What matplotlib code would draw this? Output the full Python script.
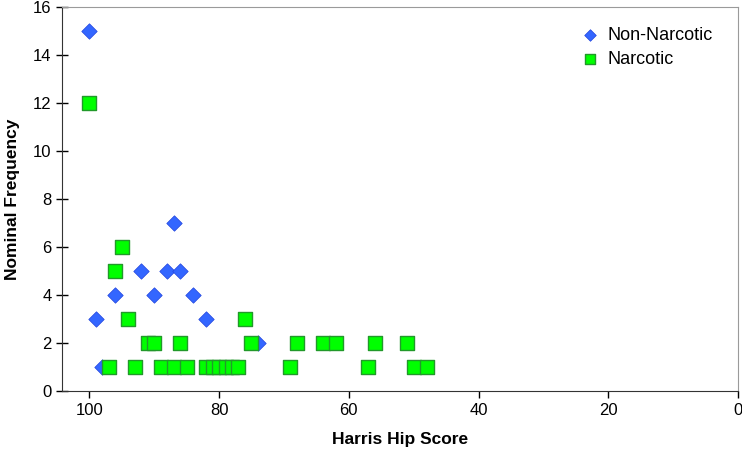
import matplotlib.pyplot as plt

plt.rcParams['font.family'] = ['Liberation Sans', 'DejaVu Sans']

# Non-Narcotic (blue diamonds)
non_score = [100, 87, 92, 88, 86, 96, 90, 84, 99, 82, 74, 98]
non_freq = [15, 7, 5, 5, 5, 4, 4, 4, 3, 3, 2, 1]

# Narcotic (green squares)
nar_score = [100, 95, 96, 94, 76, 91, 90, 86, 75, 68, 64, 62, 56, 51,
             97, 93, 89, 87, 85, 82, 81, 80, 79, 78, 77, 69, 57, 50, 48]
nar_freq = [12, 6, 5, 3, 3, 2, 2, 2, 2, 2, 2, 2, 2, 2,
            1, 1, 1, 1, 1, 1, 1, 1, 1, 1, 1, 1, 1, 1, 1]

x_ticks = [100, 80, 60, 40, 20, 0]
y_ticks = [0, 2, 4, 6, 8, 10, 12, 14, 16]

fig = plt.figure(figsize=(7.42, 4.58), dpi=100)
ax = fig.add_axes([0.0836, 0.1463, 0.911, 0.8384])

ax.scatter(non_score, non_freq, marker='D', s=62, color='#3366FF',
           edgecolors='#2244DD', linewidths=0.5, label='Non-Narcotic', zorder=3)
ax.scatter(nar_score, nar_freq, marker='s', s=88, color='#00FF00',
           edgecolors='#22992A', linewidths=1.0, label='Narcotic', zorder=4)

ax.set_xlim(104.2, 0)
ax.set_ylim(0, 16)
ax.set_xticks(x_ticks)
ax.set_yticks(y_ticks)
ax.tick_params(axis='both', labelsize=12, direction='out', length=5, width=1)
ax.tick_params(axis='y', direction='inout', length=8)

for side in ['top', 'right']:
    ax.spines[side].set_color('#9a9a9a')
for side in ['left', 'bottom']:
    ax.spines[side].set_color('#333333')

ax.set_xlabel('Harris Hip Score', fontsize=12.5, fontweight='bold', labelpad=10)
ax.set_ylabel('Nominal Frequency', fontsize=12.5, fontweight='bold', labelpad=9)

ax.legend(loc='upper right', frameon=False, fontsize=13, handletextpad=0.0,
          borderaxespad=0.6, labelspacing=0.4, scatterpoints=1, markerscale=0.75,
          bbox_to_anchor=(0.99, 0.995))

fig.savefig('out.png', dpi=100)
